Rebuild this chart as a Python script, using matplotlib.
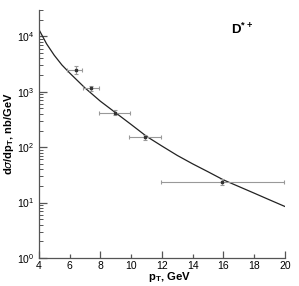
import numpy as np
import matplotlib
matplotlib.use("Agg")
import matplotlib.pyplot as plt
from matplotlib.ticker import FixedLocator, NullFormatter, LogLocator, FixedFormatter

plt.rcParams['font.family'] = ['Liberation Sans', 'DejaVu Sans']

# Data points
pt = [6.4, 7.36, 8.92, 10.93, 15.93]
xlo = [5.86, 6.88, 7.9, 9.86, 11.92]
xhi = [6.83, 7.92, 9.9, 11.92, 19.96]
sigma = [2440, 1170, 421, 150, 23.4]
yerr_lo = [370, 115, 45, 15, 3]
yerr_hi = [430, 130, 50, 17, 3.5]

# Theory curve
curve_pt = [4, 4.5, 5, 5.5, 6, 7, 8, 9, 10, 11, 12, 13, 14, 15, 16, 17, 18, 19, 20]
curve_sigma = [13400, 7360, 4570, 3050, 2190, 1175, 676, 417, 257, 157, 105, 71, 50, 36, 25.7, 19.5, 14.8, 11.2, 8.5]

fig = plt.figure(figsize=(2.99, 2.86), dpi=100)
ax = fig.add_axes([0.130, 0.098, 0.823, 0.867])

ax.plot(curve_pt, curve_sigma, color='#222222', lw=0.9)
xerr = [np.array(pt) - np.array(xlo), np.array(xhi) - np.array(pt)]
ax.errorbar(pt, sigma, xerr=xerr, yerr=[yerr_lo, yerr_hi], fmt='s', ms=1.6,
            color='#333333', ecolor='#999999', elinewidth=0.8, capsize=1.5, capthick=0.8)

ax.set_yscale('log')
ax.set_xlim(4, 20)
ax.set_ylim(1, 3e4)

for s in ['top', 'right']:
    ax.spines[s].set_visible(False)
for s in ['left', 'bottom']:
    ax.spines[s].set_color('#555555')
    ax.spines[s].set_linewidth(0.9)

ax.xaxis.set_major_locator(FixedLocator([4, 8, 12, 16, 20]))
ax.xaxis.set_minor_locator(FixedLocator([6, 10, 14, 18]))
ax.xaxis.set_minor_formatter(FixedFormatter(['6', '10', '14', '18']))
ax.tick_params(axis='x', which='major', direction='in', length=5, width=0.9, color='#555555', labelsize=7.5, pad=2.5)
ax.tick_params(axis='x', which='minor', direction='in', length=3, width=0.9, color='#555555', labelsize=7.5, pad=2.5)
ax.yaxis.set_major_locator(LogLocator(base=10, numticks=10))
ax.yaxis.set_minor_locator(LogLocator(base=10, subs=np.arange(2, 10), numticks=20))
ax.yaxis.set_minor_formatter(NullFormatter())
ax.tick_params(axis='y', which='major', direction='in', length=6, width=0.9, color='#555555', labelsize=7.5, pad=3)
ax.tick_params(axis='y', which='minor', direction='in', length=3, width=0.7, color='#555555')

ax.set_xlabel(r'p$_\mathregular{T}$, GeV', fontsize=8.2, fontweight='bold', labelpad=0)
ax.xaxis.set_label_coords(0.53, -0.05)
ax.set_ylabel(r'd$\mathit{\sigma}$/dp$_\mathregular{T}$, nb/GeV', fontsize=8, fontweight='bold', labelpad=1)
ax.text(0.78, 0.92, r'D$^{\mathregular{*+}}$', transform=ax.transAxes, fontsize=9.5, fontweight='bold', ha='left', va='center')

fig.savefig('out.png', dpi=100)
